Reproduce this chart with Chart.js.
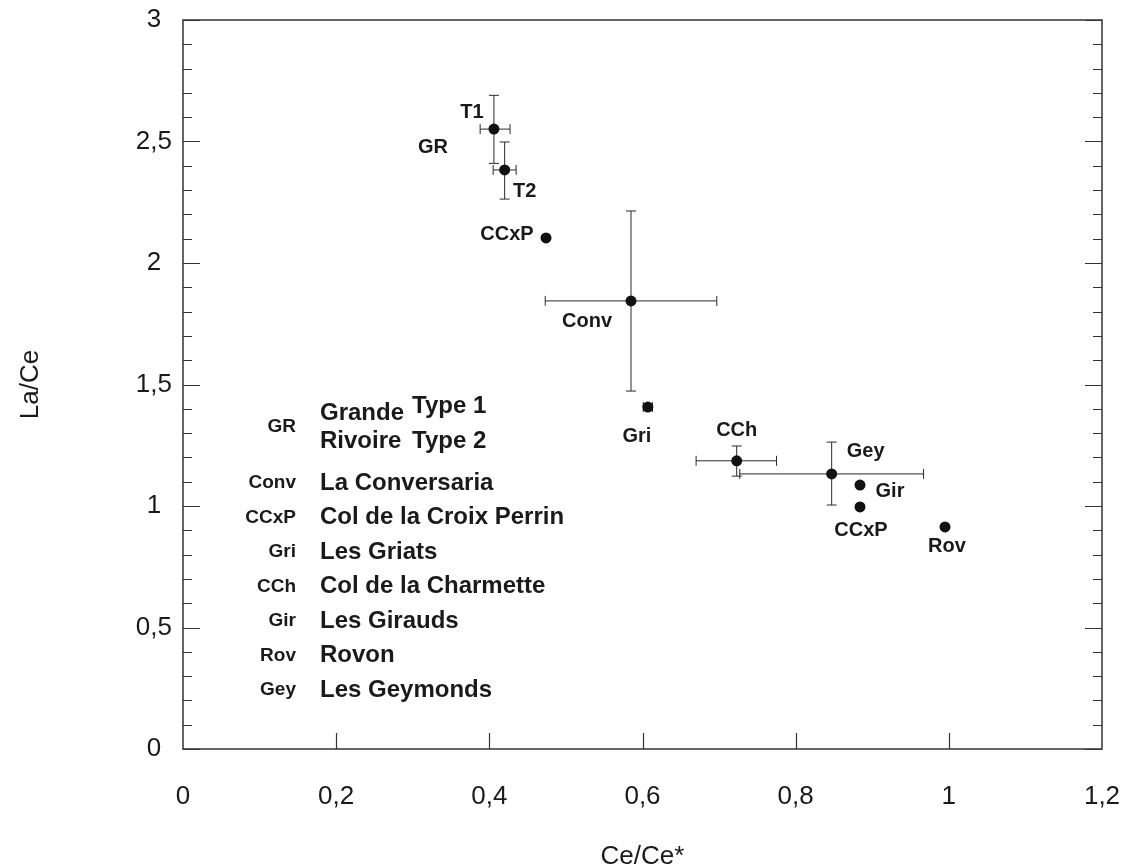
<!DOCTYPE html>
<html>
<head>
<meta charset="utf-8">
<script src="https://cdn.jsdelivr.net/npm/chart.js@4.4.1/dist/chart.umd.min.js"></script>
<style>
  body { margin: 0; background: #fff; }
  #wrap { width: 1125px; height: 868px; position: relative; }
</style>
</head>
<body>
<div id="wrap"><canvas id="chart"></canvas></div>
<script>
// Site data: Ce/Ce* (x) versus La/Ce (y)
var siteLabels = ['T1', 'T2', 'CCxP', 'Conv', 'Gri', 'CCh', 'Gey', 'Gir', 'CCxP', 'Rov'];
var ceValues   = [0.406, 0.420, 0.474, 0.585, 0.607, 0.723, 0.847, 0.884, 0.884, 0.995];
var laValues   = [2.551, 2.383, 2.103, 1.844, 1.407, 1.186, 1.132, 1.086, 0.996, 0.914];

// Error bars (null = none)
var ceLow  = [0.388, 0.405, null, 0.473, 0.601, 0.670, 0.727, null, null, null];
var ceHigh = [0.427, 0.435, null, 0.697, 0.613, 0.775, 0.967, null, null, null];
var laLow  = [2.410, 2.263, null, 1.473, 1.395, 1.123, 1.004, null, null, null];
var laHigh = [2.690, 2.498, null, 2.214, 1.420, 1.247, 1.263, null, null, null];

// Tick labels
var xTickLabels = ['0', '0,2', '0,4', '0,6', '0,8', '1', '1,2'];
var yTickLabels = ['0', '0,5', '1', '1,5', '2', '2,5', '3'];

// Key (legend) text
var keyAbbrev = ['Conv', 'CCxP', 'Gri', 'CCh', 'Gir', 'Rov', 'Gey'];
var keyNames  = ['La Conversaria', 'Col de la Croix Perrin', 'Les Griats', 'Col de la Charmette', 'Les Girauds', 'Rovon', 'Les Geymonds'];

// label offsets in px from each point (layout, not data)
var labelOffsets = [[-22, -17], [20, 22], [-39, -3], [-44, 21], [-11, 29], [0, -30], [34, -22], [30, 6], [1, 24], [2, 20]];

var INK = '#1a1a1a';
var AXIS = '#333';
var FONT = '"Liberation Sans", Arial, sans-serif';

var points = [];
for (var i = 0; i < ceValues.length; i++) {
    points.push({ x: ceValues[i], y: laValues[i] });
}

var decorPlugin = {
    id: 'decor',
    beforeDatasetsDraw: function(chart) {
        var ctx = chart.ctx;
        var xs = chart.scales.x, ys = chart.scales.y;
        ctx.save();
        ctx.strokeStyle = '#2a2a2a';
        ctx.lineWidth = 1;
        var cap = 5;
        for (var i = 0; i < ceValues.length; i++) {
            var px = xs.getPixelForValue(ceValues[i]);
            var py = ys.getPixelForValue(laValues[i]);
            if (laLow[i] !== null) {
                var y1 = ys.getPixelForValue(laLow[i]);
                var y2 = ys.getPixelForValue(laHigh[i]);
                ctx.beginPath();
                ctx.moveTo(px, y1); ctx.lineTo(px, y2);
                ctx.moveTo(px - cap, y1); ctx.lineTo(px + cap, y1);
                ctx.moveTo(px - cap, y2); ctx.lineTo(px + cap, y2);
                ctx.stroke();
            }
            if (ceLow[i] !== null) {
                var x1 = xs.getPixelForValue(ceLow[i]);
                var x2 = xs.getPixelForValue(ceHigh[i]);
                ctx.beginPath();
                ctx.moveTo(x1, py); ctx.lineTo(x2, py);
                ctx.moveTo(x1, py - cap); ctx.lineTo(x1, py + cap);
                ctx.moveTo(x2, py - cap); ctx.lineTo(x2, py + cap);
                ctx.stroke();
            }
        }
        ctx.restore();
    },
    afterDatasetsDraw: function(chart) {
        var ctx = chart.ctx;
        var a = chart.chartArea;
        var xs = chart.scales.x, ys = chart.scales.y;
        ctx.save();

        // frame
        ctx.strokeStyle = AXIS;
        ctx.lineWidth = 1.5;
        ctx.strokeRect(a.left, a.top, a.right - a.left, a.bottom - a.top);

        // inner ticks on y (both sides), major 0.5 minor 0.1
        ctx.lineWidth = 1.2;
        for (var k = 0; k <= 30; k++) {
            var v = k / 10;
            var y = Math.round(ys.getPixelForValue(v)) + 0.5;
            var len = (k % 5 === 0) ? 17 : 9;
            ctx.beginPath();
            ctx.moveTo(a.left, y); ctx.lineTo(a.left + len, y);
            ctx.moveTo(a.right, y); ctx.lineTo(a.right - len, y);
            ctx.stroke();
        }
        // inner ticks on x bottom
        for (var j = 1; j < xTickLabels.length - 1; j++) {
            var x = Math.round(xs.getPixelForValue(j * 0.2)) + 0.5;
            ctx.beginPath();
            ctx.moveTo(x, a.bottom); ctx.lineTo(x, a.bottom - 16);
            ctx.stroke();
        }

        // point labels
        ctx.fillStyle = INK;
        ctx.font = 'bold 20px ' + FONT;
        ctx.textAlign = 'center';
        ctx.textBaseline = 'middle';
        for (var i = 0; i < siteLabels.length; i++) {
            var px = xs.getPixelForValue(ceValues[i]);
            var py = ys.getPixelForValue(laValues[i]);
            ctx.fillText(siteLabels[i], px + labelOffsets[i][0], py + labelOffsets[i][1]);
        }
        // GR group label next to T1/T2
        var t1x = xs.getPixelForValue(ceValues[0]);
        var t1y = ys.getPixelForValue(laValues[0]);
        ctx.fillText('GR', t1x - 61, t1y + 18);

        // key block
        var abX = a.left + 113;
        var nmX = a.left + 137;
        var y0 = a.top + 393;
        ctx.textBaseline = 'middle';
        ctx.textAlign = 'right';
        ctx.font = 'bold 19px ' + FONT;
        ctx.fillText('GR', abX, y0 + 14);
        ctx.textAlign = 'left';
        ctx.font = 'bold 24px ' + FONT;
        ctx.fillText('Grande', nmX, y0);
        ctx.fillText('Type 1', nmX + 92, y0 - 7);
        ctx.fillText('Rivoire', nmX, y0 + 28);
        ctx.fillText('Type 2', nmX + 92, y0 + 28);
        for (var r = 0; r < keyAbbrev.length; r++) {
            var yy = y0 + 70 + r * 34.5;
            ctx.textAlign = 'right';
            ctx.font = 'bold 19px ' + FONT;
            ctx.fillText(keyAbbrev[r], abX, yy);
            ctx.textAlign = 'left';
            ctx.font = 'bold 24px ' + FONT;
            ctx.fillText(keyNames[r], nmX, yy);
        }
        ctx.restore();
    }
};

new Chart(document.getElementById('chart').getContext('2d'), {
    type: 'scatter',
    data: {
        datasets: [{
            data: points,
            pointRadius: 5.5,
            pointHoverRadius: 5.5,
            pointBackgroundColor: '#111',
            pointBorderWidth: 0
        }]
    },
    options: {
        responsive: true,
        maintainAspectRatio: false,
        animation: false,
        layout: { padding: { left: 0, right: 23, top: 20, bottom: 0 } },
        plugins: { legend: { display: false }, tooltip: { enabled: false } },
        scales: {
            x: {
                type: 'linear', min: 0, max: 1.2,
                grid: { display: false, drawTicks: false },
                border: { display: false },
                ticks: {
                    stepSize: 0.2, padding: 32, color: INK, maxRotation: 0,
                    font: { family: FONT, size: 26 },
                    callback: function(v, i) { return xTickLabels[i]; }
                },
                title: { display: true, text: 'Ce/Ce*', color: INK, font: { family: FONT, size: 26 }, padding: { top: 0, bottom: -4 } },
                afterFit: function(s) { s.height = 119; s.paddingLeft = 0; s.paddingRight = 0; }
            },
            y: {
                type: 'linear', min: 0, max: 3,
                grid: { display: false, drawTicks: false },
                border: { display: false },
                ticks: {
                    stepSize: 0.5, padding: 11, color: INK, crossAlign: 'center',
                    font: { family: FONT, size: 26 },
                    callback: function(v, i) { return yTickLabels[i]; }
                },
                title: { display: true, text: 'La/Ce', color: INK, font: { family: FONT, size: 26 }, padding: { top: 15, bottom: 0 } },
                afterFit: function(s) { s.width = 183; s.paddingTop = 0; s.paddingBottom = 0; }
            }
        }
    },
    plugins: [decorPlugin]
});
</script>
</body>
</html>
